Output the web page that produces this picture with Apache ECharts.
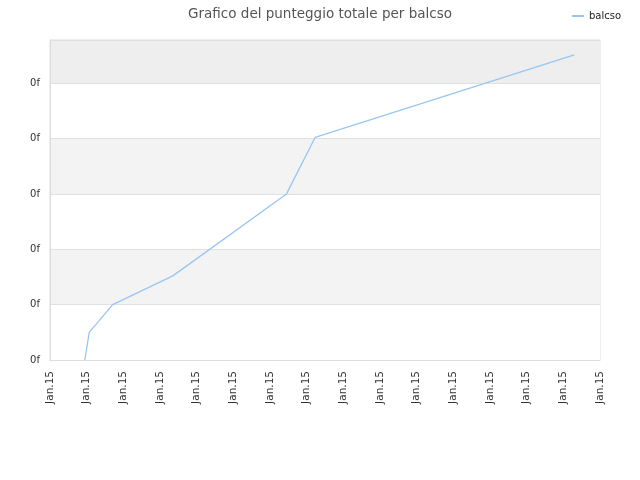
<!DOCTYPE html>
<html>
<head>
<meta charset="utf-8">
<script src="https://cdn.jsdelivr.net/npm/echarts@6/dist/echarts.min.js"></script>
<style>
  html, body { margin: 0; padding: 0; background: #fff; }
  #box { width: 640px; height: 480px; }
</style>
</head>
<body>
<div id="box"></div>
<script>
// dati
var seriesName = 'balcso';
var xValues = [0.95, 1.07, 1.71, 3.35, 6.45, 7.23, 14.3];
var yValues = [0, 0.5, 1.0, 1.52, 3.0, 4.02, 5.51];
var xTickLabel = 'Jan.15';
var yTickLabel = '0f';

var points = [];
for (var i = 0; i < xValues.length; i++) {
    points.push([xValues[i], yValues[i]]);
}

var myChart = echarts.init(document.getElementById('box'));
myChart.setOption({
    animation: false,
    textStyle: { fontFamily: 'DejaVu Sans' },
    title: {
        text: 'Grafico del punteggio totale per balcso',
        left: 'center',
        top: 2,
        textStyle: { fontSize: 13.5, fontWeight: 'normal', color: '#555' }
    },
    legend: {
        data: [seriesName],
        right: 14,
        top: 6,
        itemWidth: 12,
        itemHeight: 2,
        icon: 'rect',
        textStyle: { fontSize: 10, color: '#222' }
    },
    grid: {
        left: 50,
        right: 40,
        top: 40,
        bottom: 120,
        show: true,
        borderColor: '#dddddd',
        borderWidth: 1
    },
    xAxis: {
        type: 'value',
        min: 0,
        max: 15,
        interval: 1,
        axisLine: { show: true, lineStyle: { color: '#dddddd' } },
        axisTick: { show: false },
        splitLine: { show: false },
        axisLabel: {
            rotate: 90,
            fontSize: 10.5,
            color: '#333',
            margin: 11,
            formatter: function () { return xTickLabel; }
        }
    },
    yAxis: {
        type: 'value',
        min: 0,
        max: 5.78,
        interval: 1,
        axisLine: { show: true, lineStyle: { color: '#dddddd' } },
        axisTick: { show: false },
        splitLine: { show: true, lineStyle: { color: '#e0e0e0' } },
        splitArea: {
            show: true,
            areaStyle: { color: ['#ffffff', '#f3f3f3', '#ffffff', '#f3f3f3', '#ffffff', '#eeeeee'] }
        },
        axisLabel: {
            fontSize: 10,
            color: '#333',
            margin: 10,
            showMaxLabel: false,
            formatter: function () { return yTickLabel; }
        }
    },
    series: [{
        name: seriesName,
        type: 'line',
        symbol: 'none',
        color: '#99c5f3',
        lineStyle: { width: 1.3 },
        data: points
    }]
});
</script>
</body>
</html>
